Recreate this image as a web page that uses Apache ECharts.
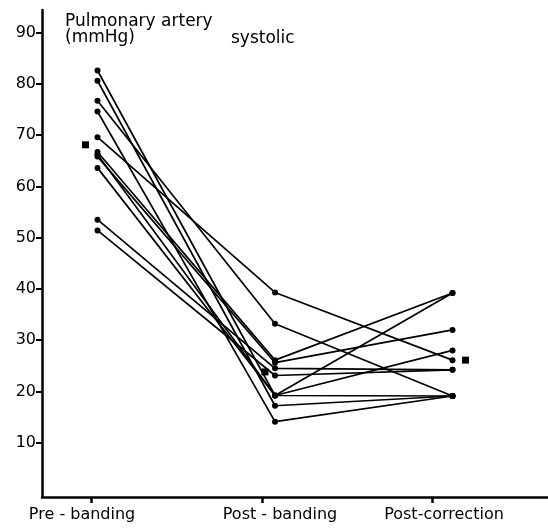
<!DOCTYPE html>
<html>
<head>
<meta charset="utf-8">
<script src="https://cdn.jsdelivr.net/npm/echarts@6/dist/echarts.min.js"></script>
<style>
  html, body { margin: 0; padding: 0; background: #fff; }
  #chart { width: 548px; height: 528px; }
</style>
</head>
<body>
<div id="chart"></div>
<script>
// 数据
const categories = ['Pre - banding', 'Post - banding', 'Post-correction']
const preBanding     = [69.6, 76.7, 82.6, 80.6, 74.6, 66.7, 66.2, 65.8, 63.6, 53.5, 51.4]
const postBanding    = [39.3, 33.2, 19.2, 17.2, 14.1, 26.1, 19.2, 25.6, 19.2, 24.5, 23.1]
const postCorrection = [26.1, 19.1, 39.2, 19.1, 19.1, 39.2, 28.0, 32.0, 19.1, 24.2, 24.2]
const means = [68.1, 23.8, 26.1]
const yTicks = [10, 20, 30, 40, 50, 60, 70, 80, 90]

const font = 'DejaVu Sans'
const chart = echarts.init(document.getElementById('chart'))

// 每个病人一条折线
const patientSeries = preBanding.map((v, i) => ({
  type: 'line',
  data: [[0, v], [1, postBanding[i]], [2, postCorrection[i]]],
  symbol: 'circle',
  symbolSize: 6,
  lineStyle: { color: '#000', width: 1.7 },
  itemStyle: { color: '#000' },
  silent: true,
  z: 2
}))

// 均值方块，稍微偏移
const meanOffsets = [[-12, 0], [-10, 0], [13, 0]]

const option = {
  animation: false,
  title: [
    {
      text: 'Pulmonary artery\n(mmHg)',
      left: 60,
      top: 9,
      textStyle: { fontFamily: font, fontSize: 17, fontWeight: 'normal', color: '#000', lineHeight: 16 }
    },
    {
      text: 'systolic',
      left: 226,
      top: 25,
      textStyle: { fontFamily: font, fontSize: 17, fontWeight: 'normal', color: '#000' }
    }
  ],
  grid: { left: 42, right: 0, top: 10, bottom: 31 },
  xAxis: {
    type: 'value',
    min: -0.3127,
    max: 2.538,
    splitLine: { show: false },
    axisLine: { show: true, onZero: false, lineStyle: { color: '#000', width: 2.5 } },
    axisTick: { show: true, customValues: [-0.0366, 0.9268, 1.8845], length: 6, lineStyle: { color: '#000', width: 2.5 } },
    axisLabel: {
      customValues: [-0.087, 1.028, 1.952],
      formatter: v => categories[Math.max(0, Math.min(2, Math.round(v)))],
      fontFamily: font,
      fontSize: 16,
      color: '#000',
      margin: 10
    }
  },
  yAxis: {
    type: 'value',
    min: -0.6,
    max: 94.4,
    splitLine: { show: false },
    axisLine: { show: true, onZero: false, lineStyle: { color: '#000', width: 2.5 } },
    axisTick: { show: true, customValues: yTicks, length: 6, lineStyle: { color: '#000', width: 2 } },
    axisLabel: {
      customValues: yTicks,
      fontFamily: font,
      fontSize: 16,
      color: '#000',
      margin: 6
    }
  },
  series: [
    ...patientSeries,
    {
      type: 'scatter',
      data: means.map((m, i) => ({ value: [i, m], symbolOffset: meanOffsets[i] })),
      symbol: 'rect',
      symbolSize: 7,
      itemStyle: { color: '#000', opacity: 1 },
      z: 3
    }
  ]
}

chart.setOption(option)
</script>
</body>
</html>
